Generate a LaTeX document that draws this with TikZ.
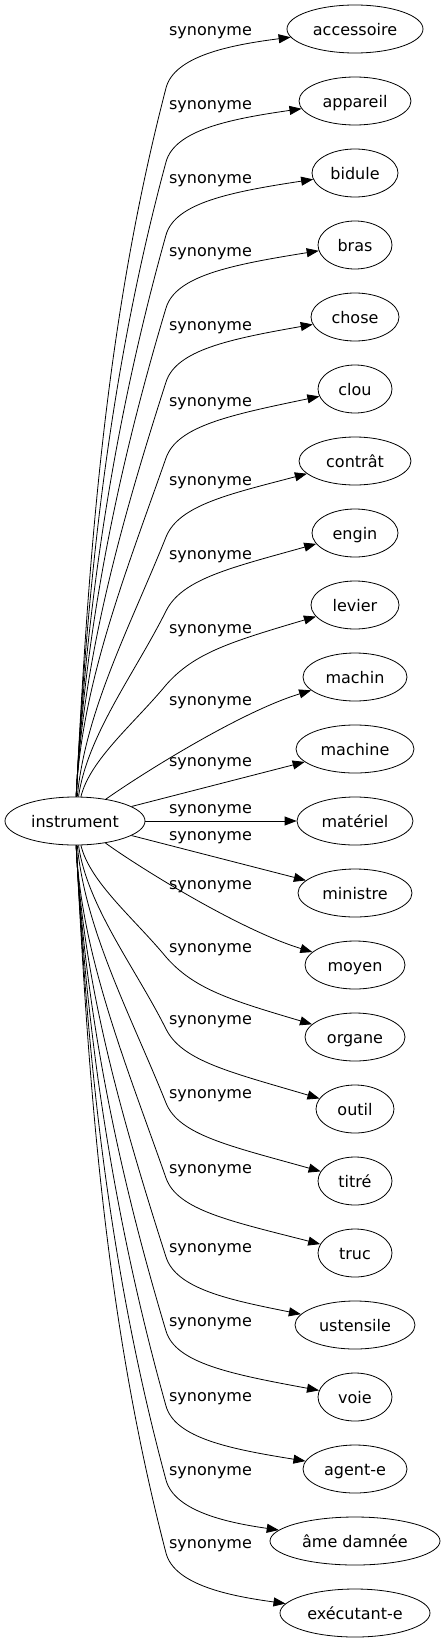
\documentclass[tikz,border=0pt]{standalone}
\usepackage{fontspec}
\newfontfamily\dv{DejaVu Sans}
\usetikzlibrary{shapes.geometric,arrows.meta}
\tikzset{
  word/.style={draw, ellipse, inner sep=0pt, minimum height=48pt, line width=0.8pt,
    font={\dv\fontsize{16pt}{19pt}\selectfont}, text height=13pt, text depth=0pt},
  lbl/.style={anchor=base, inner sep=0pt, font={\dv\fontsize{16pt}{19pt}\selectfont}},
  syn/.style={-{Triangle[length=12pt,width=9pt]}, line width=0.8pt}
}
\begin{document}
\begin{tikzpicture}[x=1pt,y=-1pt]
\useasboundingbox (0,0) rectangle (446,1643);
\node[word, minimum width=140pt] (instr) at (75,821) {instrument};
\node[word, minimum width=136pt] (w0) at (355,29) {accessoire};
\node[word, minimum width=112pt] (w1) at (355,101) {appareil};
\node[word, minimum width=86pt] (w2) at (355,173) {bidule};
\node[word, minimum width=74pt] (w3) at (355,245) {bras};
\node[word, minimum width=88pt] (w4) at (355,317) {chose};
\node[word, minimum width=74pt] (w5) at (355,389) {clou};
\node[word, minimum width=112pt] (w6) at (355,461) {contrât};
\node[word, minimum width=86pt] (w7) at (355,533) {engin};
\node[word, minimum width=88pt] (w8) at (355,605) {levier};
\node[word, minimum width=104pt] (w9) at (355,677) {machin};
\node[word, minimum width=118pt] (w10) at (355,749) {machine};
\node[word, minimum width=116pt] (w11) at (355,821) {matériel};
\node[word, minimum width=114pt] (w12) at (355,893) {ministre};
\node[word, minimum width=100pt] (w13) at (355,965) {moyen};
\node[word, minimum width=100pt] (w14) at (355,1037) {organe};
\node[word, minimum width=78pt] (w15) at (355,1109) {outil};
\node[word, minimum width=74pt] (w16) at (355,1181) {titré};
\node[word, minimum width=74pt] (w17) at (355,1253) {truc};
\node[word, minimum width=120pt] (w18) at (355,1325) {ustensile};
\node[word, minimum width=74pt] (w19) at (355,1397) {voie};
\node[word, minimum width=104pt] (w20) at (355,1469) {agent-e};
\node[word, minimum width=170pt] (w21) at (355,1541) {âme damnée};
\node[word, minimum width=150pt] (w22) at (355,1613) {exécutant-e};
% labels
\foreach \yy/\nm in {33/l0,107/l1,180/l2,253/l3,327/l4,403/l5,482/l6,556/l7,630/l8,702/l9,763/l10,810/l11,837/l12,886/l13,949/l14,1021/l15,1095/l16,1170/l17,1249/l18,1323/l19,1398/l20,1472/l21,1545/l22}
  \node[lbl] (\nm) at (210.5,\yy+3) {synonyme};
% upper edges
\draw[syn] (instr) .. controls (88.2,560.7) and (104.6,324.3) .. (166,88) .. controls (174.3,56) and (230,45) .. (w0);
\draw[syn] (instr) .. controls (86.9,585.3) and (108.8,373.7) .. (166,162) .. controls (174.6,130) and (230,119) .. (w1);
\draw[syn] (instr) .. controls (85.5,609.7) and (113.5,422.3) .. (166,235) .. controls (175,203) and (230,192) .. (w2);
\draw[syn] (instr) .. controls (84.1,634) and (117.1,471) .. (166,308) .. controls (175.6,276) and (230,265) .. (w3);
\draw[syn] (instr) .. controls (82.7,658.7) and (121.7,520.3) .. (166,382) .. controls (176.2,350) and (230,339) .. (w4);
\draw[syn] (instr) .. controls (81.3,684) and (126.4,571) .. (166,458) .. controls (177.2,426) and (230,415) .. (w5);
\draw[syn] (instr) .. controls (85.4,710.3) and (131.3,623.7) .. (166,537) .. controls (178.8,505) and (230,494) .. (w6);
\draw[syn] (instr) .. controls (87.4,735) and (135,673) .. (166,611) .. controls (182,579) and (230,568) .. (w7);
\draw[syn] (instr) .. controls (89.9,759.7) and (134.4,723.3) .. (166,685) .. controls (194,653) and (230,642) .. (w8);
\draw[syn] (instr) .. controls (140,775) and (240,712) .. (w9);
\draw[syn] (instr) -- (w10);
\draw[syn] (instr) -- (w11);
\draw[syn] (instr) -- (w12);
\draw[syn] (instr) .. controls (140,868) and (240,930) .. (w13);
% lower edges
\draw[syn] (instr) .. controls (89.9,882.3) and (134.4,918.7) .. (166,957) .. controls (194,989) and (230,1000) .. (w14);
\draw[syn] (instr) .. controls (87.3,906.3) and (135.3,967.7) .. (166,1029) .. controls (182,1061) and (230,1072) .. (w15);
\draw[syn] (instr) .. controls (85.3,931) and (131.6,1017) .. (166,1103) .. controls (178.8,1135) and (230,1146) .. (w16);
\draw[syn] (instr) .. controls (81.2,956) and (127.1,1067) .. (166,1178) .. controls (177.2,1210) and (230,1221) .. (w17);
\draw[syn] (instr) .. controls (82.7,982.3) and (122.1,1119.7) .. (166,1257) .. controls (176.2,1289) and (230,1300) .. (w18);
\draw[syn] (instr) .. controls (84.1,1007) and (117.4,1169) .. (166,1331) .. controls (175.6,1363) and (230,1374) .. (w19);
\draw[syn] (instr) .. controls (85.5,1032) and (113.6,1219) .. (166,1406) .. controls (175,1438) and (230,1449) .. (w20);
\draw[syn] (instr) .. controls (86.9,1056.7) and (108.8,1268.3) .. (166,1480) .. controls (174.6,1512) and (230,1523) .. (w21);
\draw[syn] (instr) .. controls (88.2,1081) and (104.6,1317) .. (166,1553) .. controls (174.3,1585) and (230,1596) .. (w22);
\end{tikzpicture}
\end{document}
